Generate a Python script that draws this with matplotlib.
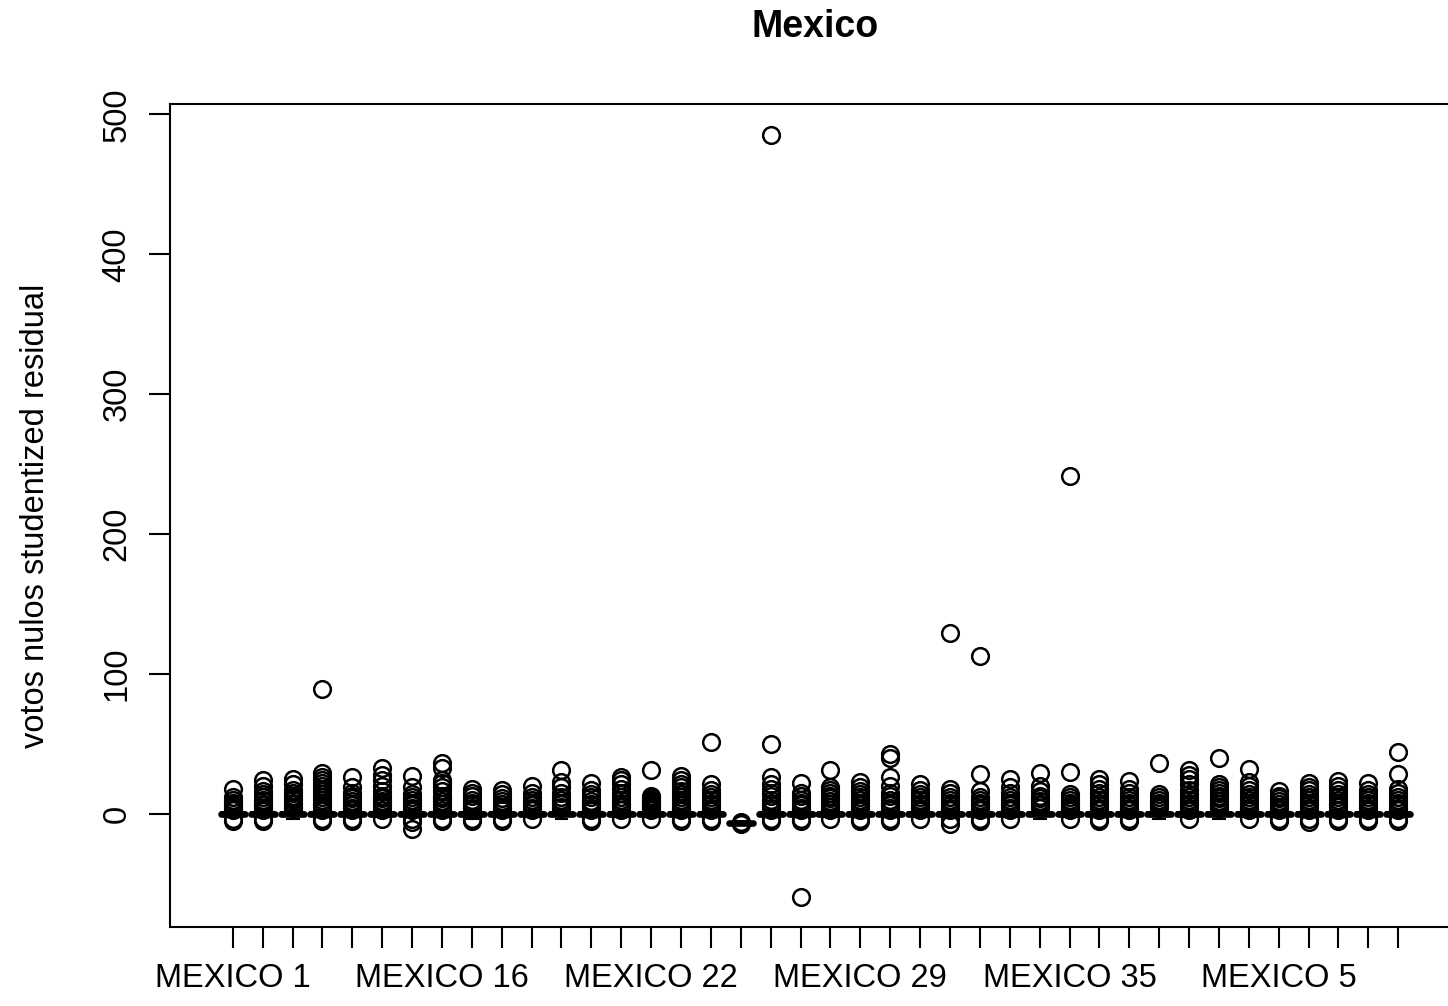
import numpy as np
import matplotlib.pyplot as plt

plt.rcParams['font.family'] = ['Liberation Sans', 'DejaVu Sans']

# distritos en orden alfabetico (como los ordena R)
distritos = ['1', '10', '11', '12', '13', '14', '15', '16', '17', '18', '19',
             '2', '20', '21', '22', '23', '24', '25', '26', '27', '28', '29',
             '3', '30', '31', '32', '33', '34', '35', '36', '37', '38', '39',
             '4', '40', '5', '6', '7', '8', '9']
etiquetas = ['MEXICO ' + d for d in distritos]
mostrar = ['MEXICO 1', 'MEXICO 16', 'MEXICO 22', 'MEXICO 29', 'MEXICO 35', 'MEXICO 5']

medianas = [0, 0, 0, 0, 0, 0, 0, 0, 0, 0, 0, 0, 0, 0, 0, 0, 0, -6.5, 0, 0,
            0, 0, 0, 0, 0, 0, 0, 0, 0, 0, 0, 0, 0, 0, 0, 0, 0, 0, 0, 0]
q1 = [-0.8, -0.8, -0.9, -0.8, -0.8, -0.8, -0.9, -0.8, -0.8, -0.8,
      -0.8, -0.9, -0.8, -0.8, -0.8, -0.8, -0.8, -7.2, -0.8, -0.8,
      -0.8, -0.8, -0.8, -0.8, -0.8, -0.8, -0.8, -0.9, -0.8, -0.8,
      -0.8, -0.9, -0.8, -0.9, -0.8, -0.8, -0.8, -0.8, -0.8, -0.8]
q3 = [0.9, 0.9, 1.0, 0.9, 0.9, 1.0, 0.9, 1.0, 0.9, 0.9,
      0.9, 1.0, 0.9, 0.9, 0.9, 1.0, 0.9, -5.8, 1.0, 0.9,
      0.9, 0.9, 1.0, 0.9, 0.9, 0.9, 0.9, 1.0, 0.9, 0.9,
      0.9, 1.0, 0.9, 1.0, 0.9, 0.9, 0.9, 0.9, 0.9, 0.9]
bigote_inf = [-2, -2, -4, -2, -2, -2, -2, -2, -3.5, -2,
              -2, -3.5, -2, -2, -2, -2, -2, -8, -2, -2,
              -2, -2, -2, -2, -2, -2, -2, -4, -2, -2,
              -2, -4, -2, -3.5, -2, -2, -2, -2, -2, -2]
bigote_sup = [2.5, 2.5, 3, 2.5, 2.5, 3, 2.5, 3, 2.5, 2.5,
              2.5, 3, 2.5, 2.5, 2.5, 3, 2.5, -5, 3, 2.5,
              2.5, 2.5, 3, 2.5, 2.5, 2.5, 2.5, 3, 2.5, 2.5,
              2.5, 3, 2.5, 3, 2.5, 2.5, 2.5, 2.5, 2.5, 2.5]
atipicos = [
    [-5, -4, 3, 4, 5, 6, 7, 8, 10, 12, 18],
    [-5, -4, 3, 4, 6, 7, 9, 10, 12, 14, 16, 20, 24],
    [4, 5, 7, 8, 10, 11, 13, 15, 17, 21, 25],
    [-5, -4, 3, 5, 6, 8, 10, 12, 14, 16, 18, 20, 22, 24, 26, 29, 89],
    [-5, -4, 3, 4, 6, 7, 9, 11, 13, 15, 19, 26],
    [-4, 3, 5, 6, 8, 9, 11, 13, 16, 20, 24, 28, 33],
    [-11, -6, -4, 3, 4, 6, 8, 10, 12, 14, 19, 27],
    [-5, -4, 3, 5, 7, 9, 11, 13, 16, 19, 22, 24, 33, 36.5],
    [-5, -4, 3, 4, 6, 8, 10, 13, 15, 18],
    [-5, -4, 3, 4, 5, 7, 9, 11, 14, 17],
    [-4, 3, 4, 6, 8, 10, 12, 15, 20],
    [4, 5, 7, 8, 10, 12, 15, 19, 23, 31],
    [-5, -4, 3, 4, 6, 7, 9, 12, 14, 17, 22],
    [-4, 3, 5, 6, 8, 10, 12, 15, 18, 21, 24, 26],
    [-4, 3, 4, 5, 6, 7, 8, 9, 10, 11, 13, 31],
    [-5, -4, 3, 4, 6, 8, 10, 12, 14, 16, 19, 21, 24, 27],
    [-5, -4, 3, 4, 6, 8, 10, 12, 14, 17, 21.5, 51],
    [-6, -7.5],
    [-5, -4, 3, 4, 6, 8, 10, 13, 15, 18, 21, 26, 50, 485.5],
    [-59.5, -5, -4, 3, 4, 6, 8, 10, 13, 15, 22],
    [-4, 3, 5, 7, 9, 11, 13, 15, 17, 19, 31],
    [-5, -4, 3, 4, 6, 8, 10, 12, 14, 16, 19, 23],
    [-5, -4, 3, 4, 6, 8, 10, 13, 15, 20, 26, 39.5, 43],
    [-4, 3, 4, 6, 8, 10, 12, 14, 17, 21],
    [-7, -4, 3, 4, 6, 8, 10, 12, 15, 18, 129],
    [-5, -4, 3, 4, 6, 8, 10, 12, 16, 28.5, 113],
    [-4, 3, 4, 6, 8, 10, 12, 15, 19, 25],
    [4, 6, 7, 9, 11, 13, 16, 20, 29],
    [-4, 3, 4, 5, 6, 8, 10, 12, 14, 30, 241.5],
    [-5, -4, 3, 4, 6, 8, 10, 12, 15, 18, 21, 25],
    [-5, -4, 3, 4, 6, 8, 10, 12, 15, 18, 23.5],
    [4, 5, 6, 8, 10, 12, 14, 36],
    [-4, 3, 4, 6, 8, 10, 12, 14, 17, 21, 25, 28, 31],
    [4, 5, 7, 9, 11, 13, 15, 17, 19, 21, 40],
    [-4, 3, 4, 6, 8, 10, 12, 14, 17, 20, 23, 32],
    [-5, -4, 3, 4, 5, 7, 9, 11, 13, 16],
    [-6, -4, 3, 4, 6, 8, 10, 12, 14, 17, 19, 22],
    [-5, -4, 3, 5, 6, 8, 10, 12, 14, 17, 20, 23.5],
    [-5, -4, 3, 4, 6, 8, 10, 12, 14, 17, 22],
    [-5, -4, 3, 4, 6, 8, 10, 12, 15, 18, 28.5, 44],
]

stats = []
for i in range(len(etiquetas)):
    stats.append(dict(med=medianas[i], q1=q1[i], q3=q3[i],
                      whislo=bigote_inf[i], whishi=bigote_sup[i],
                      fliers=atipicos[i], label=etiquetas[i]))

fig = plt.figure(figsize=(14.48, 10.06), dpi=100)
# el area de dibujo se sale por la derecha como en el original
ax = fig.add_axes([170/1448, 1 - 927/1006, (1461 - 170)/1448, (927 - 104)/1006])

pos = np.arange(1, len(etiquetas) + 1)
ax.bxp(stats, positions=pos, widths=0.8, capwidths=0.4,
       boxprops=dict(color='black', linewidth=1.5),
       medianprops=dict(color='black', linewidth=4.8, solid_capstyle='round'),
       whiskerprops=dict(color='black', linewidth=1.5, linestyle='--'),
       capprops=dict(color='black', linewidth=1.5),
       flierprops=dict(marker='o', markerfacecolor='none', markeredgecolor='black',
                       markersize=12, markeredgewidth=1.8, linestyle='none'))

ax.set_xlim(-1.1, 42.1)
ax.set_ylim(-81, 507.5)
ax.set_xticks(pos)
ax.set_xticklabels([e if e in mostrar else '' for e in etiquetas], fontsize=23.5)
ax.set_yticks([0, 100, 200, 300, 400, 500])
ax.set_yticklabels(['0', '100', '200', '300', '400', '500'], fontsize=23.5,
                   rotation=90, va='center')
ax.tick_params(axis='x', length=15, width=1.5, pad=11)
ax.tick_params(axis='y', length=15, width=1.5, pad=12)
for s in ax.spines.values():
    s.set_linewidth(1.5)

ax.set_ylabel('votos nulos studentized residual', fontsize=23.5)
ax.yaxis.set_label_coords(-0.092, 0.5)
ax.set_title('Mexico', fontsize=27, fontweight='bold', pad=48)

fig.savefig('out.png', dpi=100)
